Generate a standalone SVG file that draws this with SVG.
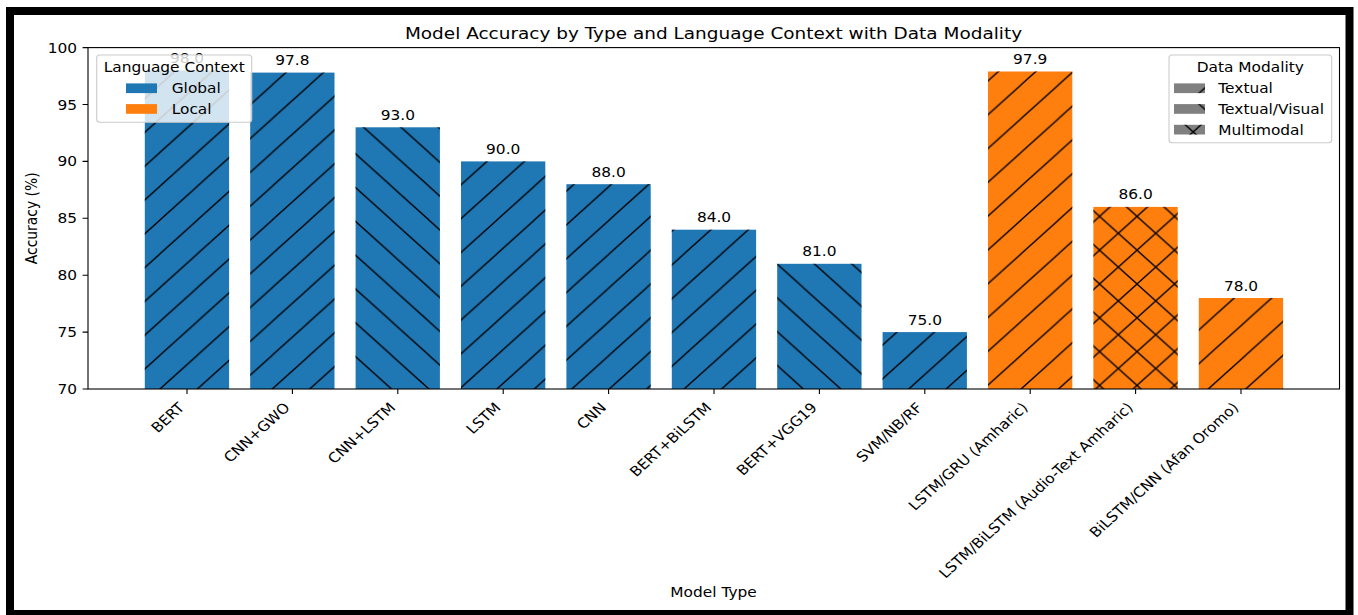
<svg xmlns="http://www.w3.org/2000/svg" width="1358" height="615" viewBox="0 0 1358 615">
  <style>
    .t { font-family: "DejaVu Sans", "Liberation Sans", sans-serif; font-size: 13.9px; fill: #000; }
    .title { font-size: 16.67px; }
    .mid { text-anchor: middle; }
    .end { text-anchor: end; }
    .global { fill: #1f77b4; }
    .local { fill: #ff7f0e; }
    .tick { stroke: #000; stroke-width: 1.1; }
    .hatch { stroke: #000; stroke-width: 1.3; fill: none; }
    .legend { fill: #ffffff; fill-opacity: 0.8; stroke: #cccccc; stroke-width: 1.1; }
    .handle { fill: #808080; }
  </style>
  <defs>
    <!-- forward-slash hatch -->
    <pattern id="hatchFwd" patternUnits="userSpaceOnUse" x="160" y="389" width="37.44" height="33.8">
      <path class="hatch" d="M0,33.8 L37.44,0 M-18.72,16.9 L18.72,-16.9 M18.72,50.7 L56.16,16.9"/>
    </pattern>
    <!-- back-slash hatch -->
    <pattern id="hatchBack" patternUnits="userSpaceOnUse" x="803.3" y="389" width="37.44" height="33.8">
      <path class="hatch" d="M0,0 L37.44,33.8 M-18.72,16.9 L18.72,50.7 M18.72,-16.9 L56.16,16.9"/>
    </pattern>
    <!-- cross hatch -->
    <pattern id="hatchCross" patternUnits="userSpaceOnUse" x="1099.58" y="216.4" width="37.44" height="33.8">
      <path class="hatch" d="M0,33.8 L37.44,0 M-18.72,16.9 L18.72,-16.9 M18.72,50.7 L56.16,16.9 M0,0 L37.44,33.8 M-18.72,16.9 L18.72,50.7 M18.72,-16.9 L56.16,16.9"/>
    </pattern>
  </defs>

  <!-- page background and frame -->
  <rect x="0" y="0" width="1358" height="615" fill="#ffffff"/>
  <rect x="10" y="11" width="1339.5" height="603" fill="none" stroke="#000" stroke-width="8"/>

  <!-- title -->
  <text class="t title mid" transform="translate(713.5,38.5) scale(1.107,1)">Model Accuracy by Type and Language Context with Data Modality</text>

  <!-- bars -->
  <g id="bars">
    <g id="bar-bert">
      <rect class="global" x="144.8" y="70.4" width="84.3" height="318.6"/>
      <rect fill="url(#hatchFwd)" x="144.8" y="70.4" width="84.3" height="318.6"/>
      <text class="t mid" transform="translate(187,62.9) scale(1.107,1)">98.0</text>
    </g>
    <g id="bar-cnn-gwo">
      <rect class="global" x="250.2" y="72.6" width="84.3" height="316.4"/>
      <rect fill="url(#hatchFwd)" x="250.2" y="72.6" width="84.3" height="316.4"/>
      <text class="t mid" transform="translate(292.4,65.1) scale(1.107,1)">97.8</text>
    </g>
    <g id="bar-cnn-lstm">
      <rect class="global" x="355.6" y="127.3" width="84.3" height="261.7"/>
      <rect fill="url(#hatchBack)" x="355.6" y="127.3" width="84.3" height="261.7"/>
      <text class="t mid" transform="translate(397.8,119.8) scale(1.107,1)">93.0</text>
    </g>
    <g id="bar-lstm">
      <rect class="global" x="461" y="161.4" width="84.3" height="227.6"/>
      <rect fill="url(#hatchFwd)" x="461" y="161.4" width="84.3" height="227.6"/>
      <text class="t mid" transform="translate(503.2,153.9) scale(1.107,1)">90.0</text>
    </g>
    <g id="bar-cnn">
      <rect class="global" x="566.4" y="184.2" width="84.3" height="204.8"/>
      <rect fill="url(#hatchFwd)" x="566.4" y="184.2" width="84.3" height="204.8"/>
      <text class="t mid" transform="translate(608.6,176.7) scale(1.107,1)">88.0</text>
    </g>
    <g id="bar-bert-bilstm">
      <rect class="global" x="671.8" y="229.7" width="84.3" height="159.3"/>
      <rect fill="url(#hatchFwd)" x="671.8" y="229.7" width="84.3" height="159.3"/>
      <text class="t mid" transform="translate(714,222.2) scale(1.107,1)">84.0</text>
    </g>
    <g id="bar-bert-vgg19">
      <rect class="global" x="777.2" y="263.8" width="84.3" height="125.2"/>
      <rect fill="url(#hatchBack)" x="777.2" y="263.8" width="84.3" height="125.2"/>
      <text class="t mid" transform="translate(819.4,256.3) scale(1.107,1)">81.0</text>
    </g>
    <g id="bar-svm">
      <rect class="global" x="882.6" y="332.1" width="84.3" height="56.9"/>
      <rect fill="url(#hatchFwd)" x="882.6" y="332.1" width="84.3" height="56.9"/>
      <text class="t mid" transform="translate(924.8,324.6) scale(1.107,1)">75.0</text>
    </g>
    <g id="bar-lstm-gru">
      <rect class="local" x="988" y="71.5" width="84.3" height="317.5"/>
      <rect fill="url(#hatchFwd)" x="988" y="71.5" width="84.3" height="317.5"/>
      <text class="t mid" transform="translate(1030.2,64) scale(1.107,1)">97.9</text>
    </g>
    <g id="bar-lstm-bilstm">
      <rect class="local" x="1093.4" y="206.9" width="84.3" height="182.1"/>
      <rect fill="url(#hatchCross)" x="1093.4" y="206.9" width="84.3" height="182.1"/>
      <text class="t mid" transform="translate(1135.6,199.4) scale(1.107,1)">86.0</text>
    </g>
    <g id="bar-bilstm-cnn">
      <rect class="local" x="1198.8" y="298" width="84.3" height="91"/>
      <rect fill="url(#hatchFwd)" x="1198.8" y="298" width="84.3" height="91"/>
      <text class="t mid" transform="translate(1241,290.5) scale(1.107,1)">78.0</text>
    </g>
  </g>

  <!-- axes frame -->
  <rect x="88" y="47.6" width="1251.5" height="341.4" fill="none" stroke="#000" stroke-width="1.1"/>

  <!-- y axis -->
  <g id="y-axis">
    <path class="tick" d="M82.6,389H88 M82.6,332.1H88 M82.6,275.2H88 M82.6,218.3H88 M82.6,161.4H88 M82.6,104.5H88 M82.6,47.6H88"/>
    <text class="t end" transform="translate(77,394) scale(1.107,1)">70</text>
    <text class="t end" transform="translate(77,337.1) scale(1.107,1)">75</text>
    <text class="t end" transform="translate(77,280.2) scale(1.107,1)">80</text>
    <text class="t end" transform="translate(77,223.3) scale(1.107,1)">85</text>
    <text class="t end" transform="translate(77,166.4) scale(1.107,1)">90</text>
    <text class="t end" transform="translate(77,109.5) scale(1.107,1)">95</text>
    <text class="t end" transform="translate(77,52.6) scale(1.107,1)">100</text>
    <text class="t mid" transform="translate(36.5,218.3) scale(1.107,1) rotate(-90)">Accuracy (%)</text>
  </g>

  <!-- x axis -->
  <g id="x-axis">
    <path class="tick" d="M187,389V394 M292.4,389V394 M397.8,389V394 M503.2,389V394 M608.6,389V394 M714,389V394 M819.4,389V394 M924.8,389V394 M1030.2,389V394 M1135.6,389V394 M1241,389V394"/>
    <text class="t end" transform="translate(185.5,408.5) scale(1.107,1) rotate(-45)">BERT</text>
    <text class="t end" transform="translate(290.9,408.5) scale(1.107,1) rotate(-45)">CNN+GWO</text>
    <text class="t end" transform="translate(396.3,408.5) scale(1.107,1) rotate(-45)">CNN+LSTM</text>
    <text class="t end" transform="translate(501.7,408.5) scale(1.107,1) rotate(-45)">LSTM</text>
    <text class="t end" transform="translate(607.1,408.5) scale(1.107,1) rotate(-45)">CNN</text>
    <text class="t end" transform="translate(712.5,408.5) scale(1.107,1) rotate(-45)">BERT+BiLSTM</text>
    <text class="t end" transform="translate(817.9,408.5) scale(1.107,1) rotate(-45)">BERT+VGG19</text>
    <text class="t end" transform="translate(923.3,408.5) scale(1.107,1) rotate(-45)">SVM/NB/RF</text>
    <text class="t end" transform="translate(1028.7,408.5) scale(1.107,1) rotate(-45)">LSTM/GRU (Amharic)</text>
    <text class="t end" transform="translate(1134.1,408.5) scale(1.107,1) rotate(-45)">LSTM/BiLSTM (Audio-Text Amharic)</text>
    <text class="t end" transform="translate(1239.5,408.5) scale(1.107,1) rotate(-45)">BiLSTM/CNN (Afan Oromo)</text>
    <text class="t mid" transform="translate(713.5,597) scale(1.107,1)">Model Type</text>
  </g>

  <!-- legend: language context -->
  <g id="legend-language">
    <rect class="legend" x="96.7" y="55" width="155" height="67.3" rx="3"/>
    <text class="t mid" transform="translate(174.2,72) scale(1.107,1)">Language Context</text>
    <rect class="global" x="126" y="83.4" width="31" height="9.7"/>
    <text class="t" transform="translate(171.7,93.2) scale(1.107,1)">Global</text>
    <rect class="local" x="126" y="104.1" width="31" height="9.7"/>
    <text class="t" transform="translate(171.7,113.9) scale(1.107,1)">Local</text>
  </g>

  <!-- legend: data modality -->
  <g id="legend-modality">
    <rect class="legend" x="1169" y="55" width="162.7" height="87.7" rx="3"/>
    <text class="t mid" transform="translate(1250.3,72) scale(1.107,1)">Data Modality</text>
    <rect class="handle" x="1174" y="83.4" width="31" height="9.7"/>
    <rect fill="url(#hatchFwd)" x="1174" y="83.4" width="31" height="9.7"/>
    <text class="t" transform="translate(1218.3,93.2) scale(1.107,1)">Textual</text>
    <rect class="handle" x="1174" y="104.1" width="31" height="9.7"/>
    <rect fill="url(#hatchBack)" x="1174" y="104.1" width="31" height="9.7"/>
    <text class="t" transform="translate(1218.3,113.9) scale(1.107,1)">Textual/Visual</text>
    <rect class="handle" x="1174" y="124.8" width="31" height="9.7"/>
    <rect fill="url(#hatchCross)" x="1174" y="124.8" width="31" height="9.7"/>
    <text class="t" transform="translate(1218.3,134.6) scale(1.107,1)">Multimodal</text>
  </g>
</svg>
